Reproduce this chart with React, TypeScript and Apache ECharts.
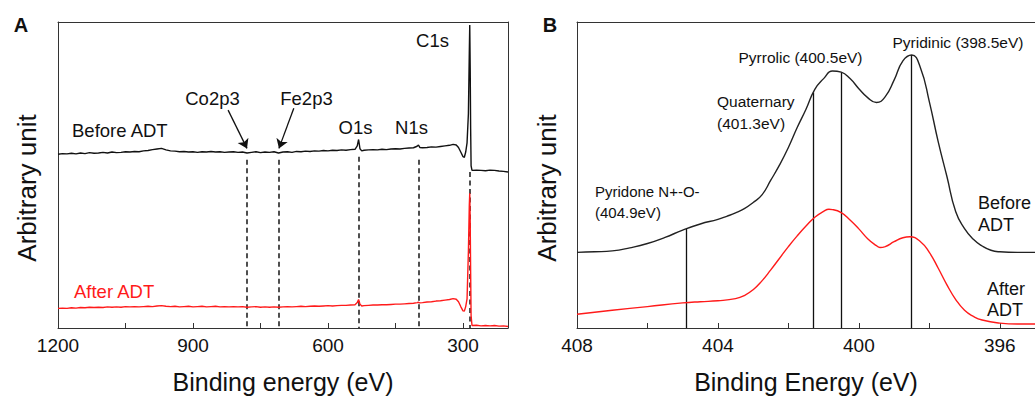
import React, { useEffect, useRef } from "react";
import * as echarts from "echarts";

// ---------- DATA ----------
// Panel A: survey spectra (binding energy eV, arbitrary intensity 0..100)
const surveyBefore: [number, number][] = [
  [1200, 56.8], [1190, 57.0], [1180, 56.9], [1170, 57.1], [1160, 56.9], [1150, 57.2], [1140, 57.0],
  [1130, 57.3], [1120, 57.1], [1110, 57.2], [1100, 57.4], [1090, 57.2], [1080, 57.5], [1070, 57.3],
  [1060, 57.4], [1050, 57.6], [1040, 57.5], [1030, 57.7], [1020, 57.6], [1010, 57.9], [1000, 58.0],
  [990, 58.3], [980, 58.5], [970, 58.7], [960, 58.2], [950, 57.9], [940, 57.8], [930, 57.6],
  [920, 57.7], [910, 57.5], [900, 57.6], [890, 57.4], [880, 57.6], [870, 57.5], [860, 57.7],
  [850, 57.5], [840, 57.6], [830, 57.4], [820, 57.5], [810, 57.6], [800, 57.4], [790, 57.5],
  [780, 57.2], [770, 57.4], [760, 57.6], [750, 57.3], [740, 57.5], [730, 57.4], [720, 57.6],
  [710, 57.2], [700, 57.5], [690, 57.6], [680, 57.4], [670, 57.7], [660, 57.6], [650, 57.8],
  [640, 57.7], [630, 57.9], [620, 57.8], [610, 58.0], [600, 57.9], [590, 58.1], [580, 58.0],
  [570, 58.2], [560, 58.1], [550, 58.3], [540, 58.4], [535, 59.5], [532, 61.6], [529, 58.6],
  [525, 57.9], [520, 58.1], [510, 58.2], [500, 58.3], [490, 58.2], [480, 58.4], [470, 58.3],
  [460, 58.5], [450, 58.6], [440, 58.5], [430, 58.7], [420, 58.8], [410, 58.9], [402, 59.4],
  [399, 59.8], [396, 59.0], [390, 58.9], [380, 59.0], [370, 59.2], [360, 59.1], [350, 59.3],
  [340, 59.5], [330, 59.7], [322, 60.0], [315, 59.8], [310, 59.0], [305, 57.5], [300, 56.0],
  [297, 55.8], [294, 57.5], [291, 60.5], [288, 70], [286, 90], [285, 99], [284, 85], [283, 65],
  [282, 53], [280, 51.5], [270, 51.6], [260, 51.5], [250, 51.4], [240, 51.6], [230, 51.5],
  [220, 51.3], [210, 51.2], [200, 51.0],
];

const surveyAfter: [number, number][] = [
  [1200, 6.4], [1190, 6.5], [1180, 6.4], [1170, 6.6], [1160, 6.5], [1150, 6.7], [1140, 6.6],
  [1130, 6.8], [1120, 6.7], [1110, 6.8], [1100, 6.7], [1090, 6.9], [1080, 6.8], [1070, 6.9],
  [1060, 6.8], [1050, 7.0], [1040, 6.9], [1030, 7.0], [1020, 6.9], [1010, 7.0], [1000, 7.1],
  [990, 7.0], [980, 7.2], [970, 7.3], [960, 7.1], [950, 7.0], [940, 7.1], [930, 6.9],
  [920, 7.0], [910, 7.1], [900, 6.9], [890, 7.0], [880, 7.1], [870, 6.9], [860, 7.0],
  [850, 7.1], [840, 6.9], [830, 7.0], [820, 6.9], [810, 7.0], [800, 6.9], [790, 7.0],
  [780, 6.8], [770, 6.9], [760, 7.0], [750, 6.8], [740, 6.9], [730, 6.8], [720, 6.9],
  [710, 6.8], [700, 6.9], [690, 7.0], [680, 6.9], [670, 7.0], [660, 7.1], [650, 7.0],
  [640, 7.1], [630, 7.2], [620, 7.1], [610, 7.2], [600, 7.3], [590, 7.2], [580, 7.3],
  [570, 7.4], [560, 7.4], [550, 7.5], [540, 7.6], [535, 8.3], [532, 9.3], [529, 7.8],
  [525, 7.2], [520, 7.3], [510, 7.4], [500, 7.5], [490, 7.5], [480, 7.6], [470, 7.6],
  [460, 7.7], [450, 7.8], [440, 7.8], [430, 7.9], [420, 8.0], [410, 8.1], [402, 8.3],
  [399, 8.4], [396, 8.2], [390, 8.3], [380, 8.5], [370, 8.6], [360, 8.8], [350, 8.9],
  [340, 9.1], [330, 9.3], [322, 9.6], [315, 9.4], [310, 8.6], [305, 7.0], [300, 5.6],
  [297, 5.5], [294, 7.0], [291, 9.5], [288, 25], [286, 40], [285, 44], [284, 35], [283, 18],
  [282, 4], [280, 0.8], [270, 0.9], [260, 0.7], [250, 0.8], [240, 0.7], [230, 0.8],
  [220, 0.6], [210, 0.7], [200, 0.5],
];

// Panel A: peak markers (dashed lines) and arrows
const surveyLineEnergies = [780, 710, 531, 398, 284];
const surveyLineTops = [55, 55, 56, 55, 51];
const arrowStarts: [number, number][] = [[822, 71.2], [676, 71.8]];
const arrowEnds: [number, number][] = [[780, 58.7], [709, 58.7]];

// Panel B: N1s spectra
const n1sBefore: [number, number][] = [
  [408.0, 24.7], [407.5, 24.9], [407.0, 25.2], [406.5, 26.2], [406.0, 27.6], [405.5, 29.6],
  [405.0, 32.0], [404.5, 34.0], [404.0, 35.5], [403.75, 36.5], [403.5, 37.6], [403.25, 39.0],
  [403.0, 41.0], [402.75, 43.5], [402.5, 48.3], [402.25, 53.3], [402.0, 59.0], [401.75, 65.5],
  [401.5, 71.5], [401.25, 78.0], [401.0, 81.5], [400.75, 84.0], [400.5, 83.6], [400.25, 81.5],
  [400.0, 78.2], [399.75, 75.3], [399.5, 73.7], [399.25, 75.6], [399.0, 81.0], [398.75, 87.3],
  [398.5, 89.2], [398.25, 85.0], [398.0, 74.0], [397.75, 61.0], [397.5, 49.5], [397.25, 38.0],
  [397.0, 32.5], [396.75, 29.0], [396.5, 26.8], [396.25, 25.4], [396.0, 24.9], [395.5, 24.7],
  [395.0, 24.7],
];

const n1sAfter: [number, number][] = [
  [408.0, 4.5], [407.0, 5.8], [406.0, 7.0], [405.0, 8.2], [404.5, 8.6], [404.0, 8.9],
  [403.5, 9.6], [403.25, 10.6], [403.0, 12.5], [402.75, 15.4], [402.5, 19.0], [402.25, 22.8],
  [402.0, 26.6], [401.75, 30.1], [401.5, 33.3], [401.25, 36.2], [401.0, 38.1], [400.85, 38.8],
  [400.75, 38.7], [400.5, 37.7], [400.25, 35.3], [400.0, 32.4], [399.75, 29.2], [399.5, 26.9],
  [399.4, 26.3], [399.25, 26.6], [399.0, 28.2], [398.75, 29.5], [398.55, 29.8], [398.25, 28.2],
  [398.0, 24.7], [397.75, 19.6], [397.5, 14.1], [397.25, 9.3], [397.0, 5.8], [396.75, 3.8],
  [396.5, 2.6], [396.0, 1.6], [395.5, 1.3], [395.0, 1.3],
];

// Panel B: component positions (solid lines)
const n1sLineEnergies = [404.9, 401.3, 400.5, 398.5];
const n1sLineTops = [32.4, 77.0, 83.6, 89.2];

// Tick labels
const ticksA = [1200, 900, 600, 300];
const minorTicksA = [1050, 750, 450];
const ticksB = [408, 404, 400, 396];
const minorTicksB = [406, 402, 398];

// ---------- STYLE ----------
const FONT = "Liberation Sans, Arial, Helvetica, sans-serif";
const AXIS_COLOR = "#333";

function frameAxis(gridIndex: number, min: number, max: number, isX: boolean) {
  return {
    type: "value",
    gridIndex,
    min,
    max,
    inverse: isX,
    position: isX ? "top" : "right",
    axisLine: { show: true, onZero: false, lineStyle: { color: AXIS_COLOR, width: 1 } },
    axisTick: { show: false },
    axisLabel: { show: false },
    splitLine: { show: false },
  };
}

function bottomAxis(gridIndex: number, min: number, max: number, ticks: number[], minor: number[], name: string) {
  return {
    type: "value",
    gridIndex,
    min,
    max,
    inverse: true,
    position: "bottom",
    axisLine: { show: true, onZero: false, lineStyle: { color: AXIS_COLOR, width: 1 } },
    axisTick: {
      show: true,
      inside: true,
      length: 5,
      customValues: [...ticks, ...minor],
      lineStyle: { color: AXIS_COLOR, width: 1 },
    },
    axisLabel: {
      customValues: ticks,
      formatter: (v: number) => String(v),
      fontSize: 19,
      color: "#111",
      fontFamily: FONT,
      margin: 8,
    },
    splitLine: { show: false },
    name,
    nameLocation: "middle",
    nameGap: 41,
    nameTextStyle: { fontSize: 25, color: "#111", fontFamily: FONT },
  };
}

function leftAxis(gridIndex: number) {
  return {
    type: "value",
    gridIndex,
    min: 0,
    max: 100,
    position: "left",
    axisLine: { show: true, onZero: false, lineStyle: { color: AXIS_COLOR, width: 1 } },
    axisTick: { show: false },
    axisLabel: { show: false },
    splitLine: { show: false },
  };
}

function txt(text: string, x: number, y: number, size: number, opts: any = {}) {
  return {
    type: "text",
    x,
    y,
    rotation: opts.rotation || 0,
    silent: true,
    style: {
      text,
      fill: opts.color || "#111",
      font: `${opts.bold ? "bold " : ""}${size}px ${FONT}`,
      textAlign: opts.align || "left",
      textVerticalAlign: "middle",
    },
  };
}

export default function App() {
  const ref = useRef<HTMLDivElement>(null);

  useEffect(() => {
    document.body.style.margin = "0";
    if (!ref.current) return;
    const chart = echarts.init(ref.current, null, { renderer: "svg" });

    const option: any = {
      animation: false,
      backgroundColor: "#fff",
      grid: [
        { left: 58, top: 22, width: 450, height: 312 },
        { left: 577, top: 22, width: 461.5, height: 312 },
      ],
      xAxis: [
        bottomAxis(0, 200, 1200, ticksA, minorTicksA, "Binding energy (eV)"),
        frameAxis(0, 200, 1200, true),
        bottomAxis(1, 395, 408, ticksB, minorTicksB, "Binding Energy (eV)"),
        frameAxis(1, 395, 408, true),
      ],
      yAxis: [leftAxis(0), frameAxis(0, 0, 100, false), leftAxis(1), frameAxis(1, 0, 100, false)],
      series: [
        {
          type: "line",
          name: "Before ADT (survey)",
          xAxisIndex: 0,
          yAxisIndex: 0,
          data: surveyBefore,
          showSymbol: false,
          lineStyle: { color: "#111", width: 1.4 },
        },
        {
          type: "line",
          name: "After ADT (survey)",
          xAxisIndex: 0,
          yAxisIndex: 0,
          data: surveyAfter,
          showSymbol: false,
          lineStyle: { color: "#ff1a1a", width: 1.4 },
        },
        {
          type: "lines",
          coordinateSystem: "cartesian2d",
          xAxisIndex: 0,
          yAxisIndex: 0,
          symbol: ["none", "none"],
          lineStyle: { color: "#222", width: 1.6, type: [5, 3.5], opacity: 1 },
          data: surveyLineEnergies.map((e, i) => ({ coords: [[e, surveyLineTops[i]], [e, 0]] })),
          z: 3,
        },
        {
          type: "lines",
          coordinateSystem: "cartesian2d",
          xAxisIndex: 0,
          yAxisIndex: 0,
          symbol: ["none", "arrow"],
          symbolSize: 9,
          lineStyle: { color: "#111", width: 1.3, opacity: 1 },
          data: arrowStarts.map((s, i) => ({ coords: [s, arrowEnds[i]] })),
          z: 3,
        },
        {
          type: "line",
          name: "Before ADT (N1s)",
          xAxisIndex: 2,
          yAxisIndex: 2,
          data: n1sBefore,
          showSymbol: false,
          smooth: 0.5,
          lineStyle: { color: "#222", width: 1.4 },
        },
        {
          type: "line",
          name: "After ADT (N1s)",
          xAxisIndex: 2,
          yAxisIndex: 2,
          data: n1sAfter,
          showSymbol: false,
          smooth: 0.5,
          lineStyle: { color: "#ff1a1a", width: 1.4 },
        },
        {
          type: "lines",
          coordinateSystem: "cartesian2d",
          xAxisIndex: 2,
          yAxisIndex: 2,
          symbol: ["none", "none"],
          lineStyle: { color: "#111", width: 1.3, opacity: 1 },
          data: n1sLineEnergies.map((e, i) => ({ coords: [[e, n1sLineTops[i]], [e, 0]] })),
          z: 3,
        },
      ],
      graphic: [
        txt("A", 21, 25, 20, { bold: true, align: "center" }),
        txt("B", 550, 25, 20, { bold: true, align: "center" }),
        txt("Arbitrary unit", 27, 188, 26, { rotation: Math.PI / 2, align: "center" }),
        txt("Arbitrary unit", 547, 188, 26, { rotation: Math.PI / 2, align: "center" }),
        // Panel A labels
        txt("Before ADT", 72, 130, 18.5),
        txt("After ADT", 74, 291, 18.5, { color: "#ff1a1a" }),
        txt("Co2p3", 212.5, 98, 18.5, { align: "center" }),
        txt("Fe2p3", 306.5, 98, 18.5, { align: "center" }),
        txt("O1s", 355.5, 127, 18.5, { align: "center" }),
        txt("N1s", 411.5, 127, 18.5, { align: "center" }),
        txt("C1s", 432.5, 40, 18.5, { align: "center" }),
        // Panel B labels
        txt("Pyrrolic (400.5eV)", 800.5, 57, 15.5, { align: "center" }),
        txt("Pyridinic (398.5eV)", 958, 42, 15.5, { align: "center" }),
        txt("Quaternary", 717, 101, 15.5),
        txt("(401.3eV)", 717, 123, 15.5),
        txt("Pyridone N+-O-", 595, 191, 15),
        txt("(404.9eV)", 595, 212, 15),
        txt("Before", 978, 203, 18),
        txt("ADT", 978, 225, 18),
        txt("After", 987, 289, 18),
        txt("ADT", 987, 310, 18),
      ],
    };

    chart.setOption(option);
    return () => chart.dispose();
  }, []);

  return <div ref={ref} style={{ width: 1035, height: 399 }} />;
}
